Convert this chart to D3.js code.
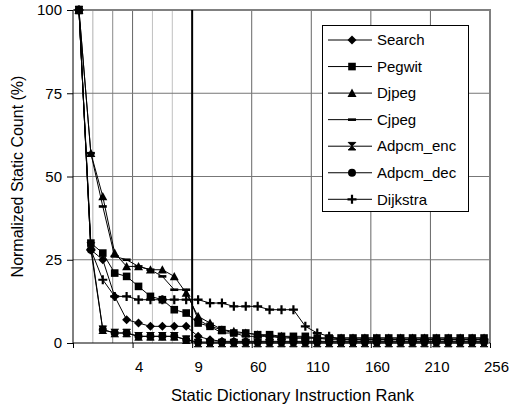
<!DOCTYPE html>
<html>
<head>
<meta charset="utf-8">
<script src="https://cdn.jsdelivr.net/npm/d3@7"></script>
<style>
  body { margin: 0; background: #fff; }
  svg { display: block; font-family: "Liberation Sans", Arial, sans-serif; }
</style>
</head>
<body>
<svg id="graphique" width="509" height="408"></svg>
<script>
// series values, one per static dictionary rank category (35 categories)
var search    = [100, 28, 25, 14, 7, 6, 5, 5, 5, 5, 2, 1, 0.5, 0.5, 0.5, 0.5, 0.5, 0.5, 0.5, 0.5, 0.5, 0.5, 0.5, 0.5, 0.5, 0.5, 0.5, 0.5, 0.5, 0.5, 0.5, 0.5, 0.5, 0.5, 0.5];
var pegwit    = [100, 30, 27, 21, 20, 17, 14, 13, 10, 9, 6, 5, 4, 3, 3, 2.5, 2.5, 2, 2, 2, 1.5, 1.5, 1.5, 1.5, 1.5, 1.5, 1.5, 1.5, 1.5, 1.5, 1.5, 1.5, 1.5, 1.5, 1.5];
var djpeg     = [100, 57, 44, 27, 23, 23, 22, 22, 20, 15, 8, 6, 4, 3.5, 3, 2.5, 2, 2, 1.5, 1.5, 1.5, 1.5, 1.5, 1.5, 1.5, 1.5, 1.5, 1.5, 1.5, 1.5, 1.5, 1.5, 1.5, 1.5, 1.5];
var cjpeg     = [100, 57, 41, 26, 25, 23, 22, 20, 16, 16, 7, 5, 3, 3, 2, 2, 2, 1.5, 1.5, 1.5, 1.5, 1, 1, 1, 1, 1, 1, 1, 1, 1, 1, 1, 1, 1, 1];
var adpcmEnc  = [100, 29, 4, 3, 3, 2, 2, 2, 2, 1, 0, 0, 0, 0, 0, 0, 0, 0, 0, 0, 0, 0, 0, 0, 0, 0, 0, 0, 0, 0, 0, 0, 0, 0, 0];
var adpcmDec  = [100, 28, 4, 3, 3, 2, 2, 2, 2, 1, 0.3, 0.3, 0.3, 0.3, 0.3, 0.3, 0.3, 0.3, 0.3, 0.3, 0.3, 0.3, 0.3, 0.3, 0.3, 0.3, 0.3, 0.3, 0.3, 0.3, 0.3, 0.3, 0.3, 0.3, 0.3];
var dijkstra  = [100, 28, 19, 14, 14, 13, 13, 13, 13, 13, 13, 12, 12, 11, 11, 11, 10, 10, 10, 5, 3, 2, 1, 1, 1, 1, 1, 1, 1, 1, 1, 1, 1, 1, 1];

var seriesNames = ["Search", "Pegwit", "Djpeg", "Cjpeg", "Adpcm_enc", "Adpcm_dec", "Dijkstra"];
var seriesValues = [search, pegwit, djpeg, cjpeg, adpcmEnc, adpcmDec, dijkstra];
var seriesMarkers = ["diamond", "square", "triangle", "dash", "hourglass", "circle", "plus"];

// x tick labels (rank), shown every 5 categories
var xTickLabels = ["4", "9", "60", "110", "160", "210", "256"];
var xTickCats = [5, 10, 15, 20, 25, 30, 35];
var yTicks = [0, 25, 50, 75, 100];

var nCat = search.length;
var MARGINS = { left: 73, right: 19, top: 10, bottom: 65 };
var WIDTH = 509, HEIGHT = 408;

var svg = d3.select("#graphique");

var xScale = d3.scaleLinear().domain([0, nCat]).range([MARGINS.left, WIDTH - MARGINS.right]);
var yScale = d3.scaleLinear().domain([0, 100]).range([HEIGHT - MARGINS.bottom, MARGINS.top]);

//// grid
var grid = svg.append("g");
var minorGrid = [5 / 3, 10 / 3, 20 / 3, 25 / 3];
var minorColors = ["#b0b0b0", "#8a8a8a", "#c0c0c0", "#c0c0c0"];
grid.selectAll("line.minor").data(minorGrid).enter().append("line")
  .attr("x1", function(d){ return xScale(d); })
  .attr("x2", function(d){ return xScale(d); })
  .attr("y1", yScale(0)).attr("y2", yScale(100))
  .attr("stroke", function(d, i){ return minorColors[i]; })
  .attr("stroke-width", 1);

grid.selectAll("line.major").data([5, 15, 20, 25, 30]).enter().append("line")
  .attr("x1", function(d){ return xScale(d); })
  .attr("x2", function(d){ return xScale(d); })
  .attr("y1", yScale(0)).attr("y2", yScale(100))
  .attr("stroke", "#666").attr("stroke-width", 1);

grid.selectAll("line.h").data([25, 50, 75]).enter().append("line")
  .attr("x1", xScale(0)).attr("x2", xScale(nCat))
  .attr("y1", function(d){ return yScale(d); })
  .attr("y2", function(d){ return yScale(d); })
  .attr("stroke", "#777").attr("stroke-width", 1);

// plot border top / right
grid.append("path")
  .attr("d", "M" + xScale(0) + "," + yScale(100) + "H" + xScale(nCat) + "V" + yScale(0))
  .attr("fill", "none").attr("stroke", "#808080").attr("stroke-width", 2);

// thick separator at rank 9
grid.append("line")
  .attr("x1", xScale(10)).attr("x2", xScale(10))
  .attr("y1", yScale(0)).attr("y2", yScale(100))
  .attr("stroke", "#000").attr("stroke-width", 2);

//// axes
var yAxis = d3.axisLeft(yScale).tickValues(yTicks).tickSize(6).tickPadding(5);
var gy = svg.append("g").attr("transform", "translate(" + xScale(0) + ",0)").call(yAxis);
gy.select(".domain").attr("d", "M0," + yScale(0) + "V" + yScale(100));

var xAxis = d3.axisBottom(xScale).tickValues([0, 5, 10, 15, 20, 25, 30, 35]).tickSize(5).tickFormat("");
var gx = svg.append("g").attr("transform", "translate(0," + yScale(0) + ")").call(xAxis);
gx.select(".domain").attr("d", "M" + xScale(0) + ",0H" + xScale(nCat));

svg.selectAll(".domain, .tick line").attr("stroke", "#000").attr("stroke-width", 1);
gy.selectAll("text").attr("font-size", 15).attr("fill", "#000").attr("font-family", null);

svg.append("g").selectAll("text").data(xTickLabels).enter().append("text")
  .attr("x", function(d, i){ return xScale(xTickCats[i] + 0.55); })
  .attr("y", yScale(0) + 29)
  .attr("text-anchor", "middle")
  .attr("font-size", 15)
  .text(function(d){ return d; });

// titles
svg.append("text")
  .attr("x", (xScale(0) + xScale(nCat)) / 2 + 11)
  .attr("y", 401)
  .attr("text-anchor", "middle")
  .attr("font-size", 16.5)
  .text("Static Dictionary Instruction Rank");

svg.append("text")
  .attr("transform", "translate(23," + ((yScale(0) + yScale(100)) / 2) + ") rotate(-90)")
  .attr("text-anchor", "middle")
  .attr("font-size", 16)
  .text("Normalized Static Count (%)");

//// markers
function drawMarker(g, type){
  if(type == "diamond"){
    g.append("path").attr("d", "M0,-4.5L4.5,0L0,4.5L-4.5,0Z");
  } else if(type == "square"){
    g.append("rect").attr("x", -3.8).attr("y", -3.8).attr("width", 7.6).attr("height", 7.6);
  } else if(type == "triangle"){
    g.append("path").attr("d", "M0,-4.5L4.5,3.8L-4.5,3.8Z");
  } else if(type == "dash"){
    g.append("rect").attr("x", -4).attr("y", -1.3).attr("width", 8).attr("height", 2.6);
  } else if(type == "hourglass"){
    g.append("path").attr("d", "M-3.8,-3.8H3.8L-3.8,3.8H3.8Z").attr("stroke", "#000").attr("stroke-width", 1);
  } else if(type == "circle"){
    g.append("circle").attr("r", 4);
  } else if(type == "plus"){
    g.append("path").attr("d", "M-4.5,0H4.5M0,-4.5V4.5").attr("stroke", "#000").attr("stroke-width", 2.2);
  }
}

//// courbes
var line = d3.line()
  .x(function(d, i){ return xScale(i + 0.5); })
  .y(function(d){ return yScale(d); });

var plot = svg.append("g");
for(var s = 0; s < seriesValues.length; s++){
  var vals = seriesValues[s];
  plot.append("path")
    .attr("d", line(vals))
    .attr("fill", "none")
    .attr("stroke", "#000")
    .attr("stroke-width", 1);

  for(var i = 0; i < vals.length; i++){
    var m = plot.append("g")
      .attr("transform", "translate(" + xScale(i + 0.5) + "," + yScale(vals[i]) + ")")
      .attr("fill", "#000");
    drawMarker(m, seriesMarkers[s]);
  }
}

//// legende
var LEG = { x: 322, y: 25, w: 146, h: 186, row: 26.55, first: 15 };
var legende = svg.append("g").attr("transform", "translate(" + LEG.x + "," + LEG.y + ")");
legende.append("rect")
  .attr("x", 0.5).attr("y", 0.5).attr("width", LEG.w).attr("height", LEG.h)
  .attr("fill", "#fff").attr("stroke", "#000").attr("stroke-width", 1);

seriesNames.forEach(function(nom, k){
  var row = legende.append("g").attr("transform", "translate(0," + (LEG.first + k * LEG.row) + ")");
  row.append("line").attr("x1", 6).attr("x2", 50).attr("y1", 0).attr("y2", 0)
    .attr("stroke", "#000").attr("stroke-width", 1);
  var m = row.append("g").attr("transform", "translate(30,0)").attr("fill", "#000");
  drawMarker(m, seriesMarkers[k]);
  row.append("text").attr("x", 55).attr("y", 0).attr("dy", "0.35em")
    .attr("font-size", 15).text(nom);
});
</script>
</body>
</html>
